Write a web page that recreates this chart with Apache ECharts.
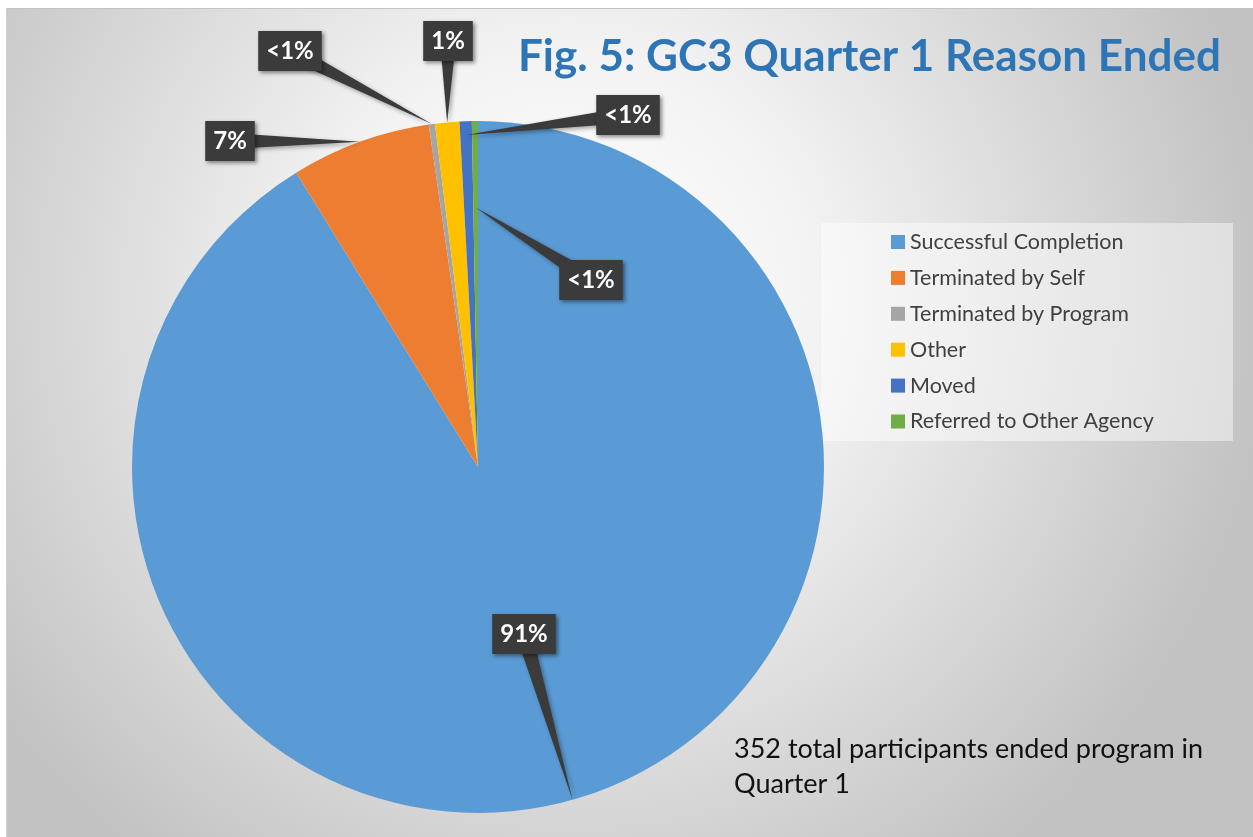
<!DOCTYPE html>
<html>
<head>
<meta charset="utf-8">
<script src="https://cdn.jsdelivr.net/npm/echarts@6/dist/echarts.min.js"></script>
<style>
  html, body { margin: 0; padding: 0; background: #fff; }
  #pie { position: absolute; left: 6px; top: 8px; width: 1247px; height: 829px; border-top: 1px solid #c4c4c4; border-left: 1px solid #d0d0d0; box-sizing: border-box; }
</style>
</head>
<body>
<div id="pie"></div>
<script>
/********* data *****************************/
var reasons = ['Successful Completion', 'Terminated by Self', 'Terminated by Program', 'Other', 'Moved', 'Referred to Other Agency'];
var counts = [321, 23, 1, 4, 2, 1];
var labelText = ['91%', '7%', '<1%', '1%', '<1%', '<1%'];
var colors = ['#5b9bd5', '#ed7d31', '#a5a5a5', '#ffc000', '#4472c4', '#70ad47'];

// where the callouts sit, and how deep into the slice the pointer goes
var calloutPos = [[517, 625], [223, 132], [283, 42], [441, 32], [621, 106], [584, 271]];
var pointerDepth = [1, 1, 1, 1, 0.96, 0.75];

var cx = 471, cy = 458, R = 346;

var total = 0;
for (var i = 0; i < counts.length; i++) total += counts[i];

// point on the slice (middle angle) the callout pointer aims at
function anchorOf(idx) {
    var before = 0;
    for (var k = 0; k < idx; k++) before += counts[k];
    var mid = (before + counts[idx] / 2) / total * Math.PI * 2;
    var r = R * pointerDepth[idx];
    return [cx + r * Math.sin(mid), cy - r * Math.cos(mid)];
}

var pieData = [];
for (var j = 0; j < reasons.length; j++) {
    pieData.push({ name: reasons[j], value: counts[j], itemStyle: { color: colors[j] } });
}

/********* callouts (wedge + dark box) ****************/
var callouts = [];
for (var n = 0; n < counts.length; n++) {
    var a = anchorOf(n);
    var p = calloutPos[n];
    var dx = p[0] - a[0], dy = p[1] - a[1];
    var len = Math.sqrt(dx * dx + dy * dy);
    var nx = -dy / len * 8, ny = dx / len * 8;
    callouts.push({
        type: 'polygon',
        z: 100,
        shape: { points: [a, [p[0] + nx, p[1] + ny], [p[0] - nx, p[1] - ny]] },
        style: { fill: '#3b3b3b', shadowBlur: 4, shadowOffsetX: 2, shadowOffsetY: 2, shadowColor: 'rgba(0,0,0,0.35)' }
    });
}
for (var m = 0; m < counts.length; m++) {
    callouts.push({
        type: 'text',
        z: 101,
        x: calloutPos[m][0],
        y: calloutPos[m][1],
        style: {
            text: labelText[m],
            fill: '#fff',
            font: 'bold 24px Lato',
            align: 'center',
            verticalAlign: 'middle',
            backgroundColor: '#3b3b3b',
            padding: [9, 8, 7, 8],
            shadowBlur: 4,
            shadowOffsetX: 2,
            shadowOffsetY: 2,
            shadowColor: 'rgba(0,0,0,0.45)'
        }
    });
}

var dom = document.getElementById("pie");
var myChart = echarts.init(dom);
var option = null;
option = {
    backgroundColor: {
        type: 'radial', x: 0.45, y: 0.35, r: 0.85,
        colorStops: [
            { offset: 0, color: '#ffffff' },
            { offset: 0.35, color: '#f3f3f3' },
            { offset: 1, color: '#c2c2c2' }
        ]
    },
    title: {
        text: 'Fig. 5: GC3 Quarter 1 Reason Ended',
        left: 511,
        top: 26,
        padding: 0,
        textStyle: {
            color: '#2e75b6',
            fontFamily: 'Lato',
            fontWeight: 'bold',
            fontSize: 44
        }
    },
    legend: {
        orient: 'vertical',
        left: 879,
        top: 217,
        icon: 'rect',
        itemWidth: 14,
        itemHeight: 14,
        itemGap: 13.9,
        data: reasons,
        textStyle: {
            color: '#404040',
            fontFamily: 'Lato',
            fontSize: 21.5,
            lineHeight: 20
        }
    },
    graphic: [
        {
            type: 'rect',
            z: -1,
            shape: { x: 814, y: 214, width: 412, height: 218 },
            style: { fill: 'rgba(255,255,255,0.45)' }
        },
        {
            type: 'text',
            left: 727,
            top: 723,
            style: {
                text: '352 total participants ended program in\nQuarter 1',
                fill: '#111',
                font: '27px Lato',
                lineHeight: 35
            }
        }
    ].concat(callouts),
    series: [{
        type: 'pie',
        center: [cx, cy],
        radius: R,
        startAngle: 90,
        clockwise: true,
        animation: false,
        data: pieData,
        label: { show: false },
        labelLine: { show: false },
        emphasis: { disabled: true }
    }]
};
if (option && typeof option === "object") {
    myChart.setOption(option, true);
}
</script>
</body>
</html>
